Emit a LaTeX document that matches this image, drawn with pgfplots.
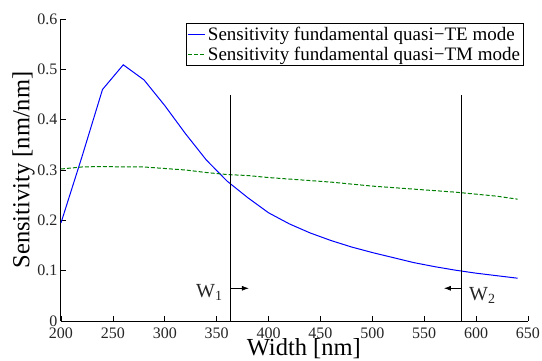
\documentclass[border=0pt]{standalone}
\usepackage{fontspec}
\setmainfont{Liberation Serif}
\usepackage{pgfplots}
\pgfplotsset{compat=1.18}
\usetikzlibrary{arrows.meta}
\begin{document}
\begin{tikzpicture}
\useasboundingbox (-61pt,-39pt) rectangle (481pt,321pt);
\begin{axis}[
  scale only axis,
  width=467pt, height=302pt,
  xmin=200, xmax=650, ymin=0, ymax=0.6,
  axis lines*=left,
  axis line style={line width=1pt},
  tick align=inside,
  major tick length=5pt,
  tick style={black, line width=0.7pt},
  xtick={200,250,...,650},
  ytick={0,0.1,...,0.6},
  /pgf/number format/assume math mode=true,
  yticklabel style={/pgf/number format/fixed, /pgf/number format/precision=1},
  xticklabel style={yshift=-3pt},
  tick label style={font=\fontsize{16}{17}\selectfont, text=black!85},
  xlabel={Width [nm]},
  ylabel={Sensitivity [nm/nm]},
  label style={font=\fontsize{24.5}{26}\selectfont},
  xlabel style={at={(axis description cs:0.52,0)}, anchor=base, yshift=-34pt},
  ylabel style={yshift=-4pt},
  legend style={at={(rel axis cs:1,1)}, anchor=north east, xshift=-4pt, yshift=-4pt,
    draw=black, line width=1pt, font=\fontsize{19}{21}\selectfont,
    inner sep=1.5pt, row sep=1.5pt,
    /tikz/every even column/.append style={column sep=0pt}},
  legend cell align=left,
  legend image post style={line width=1pt},
  clip=false,
]
\addplot[blue, line width=1pt] coordinates {
(200,0.195) (220,0.325) (240,0.460) (260,0.509) (280,0.479) (300,0.428)
(320,0.372) (340,0.320) (360,0.278) (380,0.245) (400,0.215) (420,0.193)
(440,0.175) (460,0.160) (480,0.147) (500,0.136) (520,0.126) (540,0.116)
(560,0.108) (580,0.101) (600,0.095) (620,0.090) (640,0.085)};
\addlegendentry{Sensitivity fundamental quasi−TE mode}
\addplot[green!50!black, line width=1pt, dash pattern=on 4pt off 2pt] coordinates {
(200,0.302) (220,0.306) (240,0.307) (260,0.306) (280,0.306) (300,0.303)
(320,0.300) (340,0.295) (360,0.291) (380,0.289) (400,0.285) (420,0.282)
(440,0.279) (460,0.276) (480,0.272) (500,0.268) (520,0.265) (540,0.262)
(560,0.259) (580,0.256) (600,0.252) (620,0.248) (640,0.242)};
\addlegendentry{Sensitivity fundamental quasi−TM mode}
\addplot[black, line width=0.7pt, forget plot] coordinates {(363.5,0) (363.5,0.45)};
\addplot[black, line width=0.7pt, forget plot] coordinates {(586,0) (586,0.45)};
\addplot[black, line width=0.7pt, -{Latex[length=7pt,width=5pt]}, forget plot] coordinates {(363.5,0.065) (381,0.065)};
\addplot[black, line width=0.7pt, -{Latex[length=7pt,width=5pt]}, forget plot] coordinates {(586,0.065) (569,0.065)};
\node[font=\fontsize{20}{22}\selectfont, text=black!85] at (axis cs:343,0.057) {W\textsubscript{1}};
\node[font=\fontsize{20}{22}\selectfont, text=black!85] at (axis cs:606,0.050) {W\textsubscript{2}};
\end{axis}
\end{tikzpicture}
\end{document}
